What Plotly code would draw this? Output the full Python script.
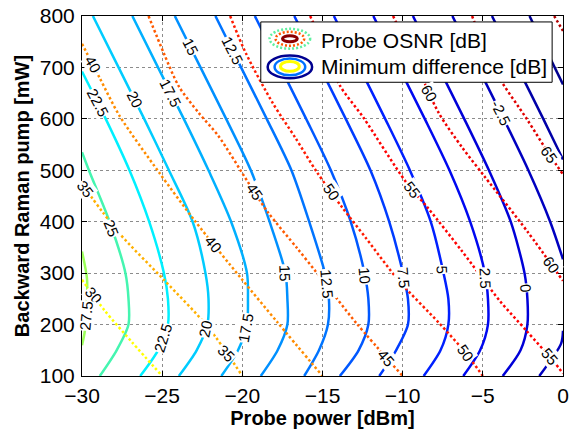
import numpy as np
import plotly.graph_objects as go

FONT = "Liberation Sans, Arial, Helvetica, sans-serif"

# ---------------------------------------------------------------------------
# Minimum difference [dB] contours: probe power (dBm) along each level line,
# sampled at backward Raman pump values (mW)
# ---------------------------------------------------------------------------
pump_grid = [800, 700, 600, 500, 400, 300, 250, 200, 150, 100]

md_0_power = [-9.36, -7.76, -6.16, -4.62, -3.26, -2.40, -2.22, -2.22, -2.65, -3.76]
md_2_5_power = [-11.83, -10.23, -8.62, -7.08, -5.79, -4.87, -4.68, -4.68, -5.17, -6.22]
md_5_power = [-14.29, -12.69, -11.09, -9.55, -8.25, -7.45, -7.15, -7.15, -7.64, -8.69]
md_7_5_power = [-16.76, -15.15, -13.55, -12.01, -10.84, -9.98, -9.67, -9.67, -10.41, -11.46]
md_10_power = [-19.22, -17.62, -16.02, -14.48, -13.24, -12.38, -12.14, -12.14, -12.75, -13.92]
md_12_5_power = [-21.68, -20.08, -18.48, -16.94, -15.83, -14.85, -14.60, -14.66, -15.22, -16.14]
md_15_power = [-24.21, -22.61, -21.01, -19.47, -18.30, -17.31, -17.19, -17.19, -17.80, -18.85]
md_17_5_power = [-26.86, -25.26, -23.65, -22.11, -20.70, -19.71, -19.65, -19.71, -20.27, -21.31]
md_20_power = [-29.32, -27.72, -26.12, -24.58, -23.10, -22.30, -22.11, -22.18, -22.85, -23.96]

md_22_5_pump = [692, 600, 500, 400, 300, 250, 200, 150, 100]
md_22_5_power = [-30.0, -28.52, -27.04, -25.81, -24.89, -24.64, -24.64, -25.26, -26.37]

md_25_pump = [535, 500, 400, 300, 250, 200, 150, 100]
md_25_power = [-30.0, -29.57, -28.28, -27.29, -27.10, -27.10, -27.84, -28.89]

md_27_5_pump = [342, 290, 246, 188, 160]
md_27_5_power = [-30.0, -29.69, -29.69, -29.82, -30.0]

md_m2_5_pump = [800, 700, 600, 500, 400, 327]
md_m2_5_power = [-6.90, -5.30, -3.70, -2.16, -0.80, 0.0]
md_m2_5b_pump = [188, 163, 100]
md_m2_5b_power = [0.0, -0.12, -1.48]

md_m5_pump = [800, 700, 600, 521]
md_m5_power = [-4.43, -2.83, -1.23, 0.0]

md_m7_5_pump = [800, 667]
md_m7_5_power = [-2.09, 0.0]

# ---------------------------------------------------------------------------
# Probe OSNR [dB] contours
# ---------------------------------------------------------------------------
osnr_30_power = [-30.0, -28.58, -26.86, -25.0]
osnr_30_pump = [287, 227, 165, 100]
osnr_35_power = [-30.0, -27.66, -24.89, -22.11, -20.0]
osnr_35_pump = [473, 377, 287, 194, 100]
osnr_40_power = [-30.0, -28.89, -27.66, -25.20, -22.92, -20.08, -17.80, -15.0]
osnr_40_pump = [746, 679, 606, 496, 400, 290, 204, 100]
osnr_45_power = [-25.85, -24.89, -23.96, -22.73, -21.50, -19.65, -18.42, -16.57, -15.34, -12.87, -10.0]
osnr_45_pump = [800, 727, 663, 612, 567, 477, 419, 348, 300, 202, 100]
osnr_50_power = [-20.76, -19.77, -18.11, -16.69, -15.34, -13.80, -12.26, -10.23, -7.76, -6.10, -5.0]
osnr_50_pump = [800, 727, 631, 563, 496, 429, 367, 285, 204, 146, 100]
osnr_55_power = [-15.77, -14.72, -13.92, -12.44, -9.79, -8.38, -6.28, -3.94, -2.28, -0.55, 0.0]
osnr_55_pump = [800, 727, 665, 602, 477, 425, 342, 246, 188, 127, 105]
osnr_60_power = [-10.60, -9.18, -7.76, -6.28, -4.87, -2.22, 0.0]
osnr_60_pump = [800, 708, 612, 544, 487, 381, 285]
osnr_65_power = [-5.67, -4.25, -2.22, -0.86, 0.0]
osnr_65_pump = [800, 694, 598, 531, 492]
osnr_70_power = [-0.55, 0.0]
osnr_70_pump = [800, 771]

# level -> list of (power, pump) segments
md_lines = {
    -7.5: [(md_m7_5_power, md_m7_5_pump)],
    -5: [(md_m5_power, md_m5_pump)],
    -2.5: [(md_m2_5_power, md_m2_5_pump), (md_m2_5b_power, md_m2_5b_pump)],
    0: [(md_0_power, pump_grid)],
    2.5: [(md_2_5_power, pump_grid)],
    5: [(md_5_power, pump_grid)],
    7.5: [(md_7_5_power, pump_grid)],
    10: [(md_10_power, pump_grid)],
    12.5: [(md_12_5_power, pump_grid)],
    15: [(md_15_power, pump_grid)],
    17.5: [(md_17_5_power, pump_grid)],
    20: [(md_20_power, pump_grid)],
    22.5: [(md_22_5_power, md_22_5_pump)],
    25: [(md_25_power, md_25_pump)],
    27.5: [(md_27_5_power, md_27_5_pump)],
}
osnr_lines = {
    30: (osnr_30_power, osnr_30_pump),
    35: (osnr_35_power, osnr_35_pump),
    40: (osnr_40_power, osnr_40_pump),
    45: (osnr_45_power, osnr_45_pump),
    50: (osnr_50_power, osnr_50_pump),
    55: (osnr_55_power, osnr_55_pump),
    60: (osnr_60_power, osnr_60_pump),
    65: (osnr_65_power, osnr_65_pump),
    70: (osnr_70_power, osnr_70_pump),
}

# line colours (jet-like) per level
md_colors = {
    -7.5: "#000090", -5: "#0000a8", -2.5: "#0000c0", 0: "#0000d8", 2.5: "#0008f0",
    5: "#0020ff", 7.5: "#003cff", 10: "#0058ff", 12.5: "#0074ff", 15: "#0090ff",
    17.5: "#00b0ff", 20: "#00ccff", 22.5: "#00f0ff", 25: "#45f5b0", 27.5: "#9cff5a",
}
osnr_colors = {
    30: "#ffff00", 35: "#ffb000", 40: "#ff8c00", 45: "#ff5a00", 50: "#ff1a00",
    55: "#ff0000", 60: "#f00000", 65: "#e00000", 70: "#b00000",
}

# inline contour labels: (level, pump where placed, text angle)
md_label_spots = [
    (12.5, 733, 63), (12.5, 279, 85), (15, 740, 63), (15, 300, 88),
    (17.5, 650, 63), (17.5, 194, -80), (20, 637, 63), (20, 192, -78),
    (22.5, 631, 62), (22.5, 175, -72), (25, 387, 68), (27.5, 218, -85),
    (10, 294, 85), (7.5, 290, 85), (5, 308, 88), (2.5, 290, 88), (0, 271, 85),
    (-2.5, 612, 63),
]
osnr_label_spots = [
    (40, 705, 60), (40, 356, 50), (35, 463, 52), (35, 144, 45), (30, 256, 50),
    (45, 458, 55), (45, 135, 50), (50, 458, 55), (50, 144, 55), (55, 463, 52),
    (55, 137, 50), (60, 650, 60), (60, 317, 55), (65, 531, 55),
]


def power_at(power, pump, p):
    pump = np.asarray(pump, float)
    power = np.asarray(power, float)
    order = np.argsort(pump)
    return float(np.interp(p, pump[order], power[order]))


def fmt(v):
    return f"{v:g}"


fig = go.Figure()

for lvl, segs in md_lines.items():
    for px, py in segs:
        fig.add_trace(go.Scatter(
            x=px, y=py, mode="lines", showlegend=False, hoverinfo="skip",
            line=dict(color=md_colors[lvl], width=2.5, shape="spline", smoothing=0.8),
        ))

for lvl, (px, py) in osnr_lines.items():
    fig.add_trace(go.Scatter(
        x=px, y=py, mode="lines", showlegend=False, hoverinfo="skip",
        line=dict(color=osnr_colors[lvl], width=2.5, dash="2.5px,2.5px",
                  shape="spline", smoothing=0.8),
    ))

annotations = []
for lvl, p, ang in osnr_label_spots:
    px, py = osnr_lines[lvl]
    annotations.append(dict(
        x=power_at(px, py, p), y=p, xref="x", yref="y", text=fmt(lvl),
        showarrow=False, textangle=ang, bgcolor="white", borderpad=0,
        font=dict(family=FONT, size=15, color="black"),
    ))
for lvl, p, ang in md_label_spots:
    px, py = md_lines[lvl][0]
    annotations.append(dict(
        x=power_at(px, py, p), y=p, xref="x", yref="y", text=fmt(lvl),
        showarrow=False, textangle=ang, bgcolor="white", borderpad=0,
        font=dict(family=FONT, size=15, color="black"),
    ))

# legend box with concentric contour icons
annotations.append(dict(x=0.4928, y=0.9313, xref="paper", yref="paper", xanchor="left",
                        yanchor="middle", text="Probe OSNR [dB]", showarrow=False,
                        font=dict(family=FONT, size=21, color="black")))
annotations.append(dict(x=0.4928, y=0.8599, xref="paper", yref="paper", xanchor="left",
                        yanchor="middle", text="Minimum difference [dB]", showarrow=False,
                        font=dict(family=FONT, size=21, color="black")))

shapes = [
    dict(type="rect", xref="paper", yref="paper", x0=0.3717, x1=0.9774, y0=0.8159, y1=0.9835,
         line=dict(color="black", width=1), fillcolor="white", layer="above"),
    dict(type="circle", xref="paper", yref="paper", x0=0.390, x1=0.4743, y0=0.9093, y1=0.9643,
         line=dict(color="#5ff0a0", width=2.5, dash="2px,2px"), layer="above"),
    dict(type="circle", xref="paper", yref="paper", x0=0.4025, x1=0.4620, y0=0.9176, y1=0.9560,
         line=dict(color="#ff5a00", width=2.5, dash="2px,2px"), layer="above"),
    dict(type="circle", xref="paper", yref="paper", x0=0.4168, x1=0.4476, y0=0.9286, y1=0.9451,
         line=dict(color="#8b0000", width=3), layer="above"),
    dict(type="circle", xref="paper", yref="paper", x0=0.3860, x1=0.4784, y0=0.8269, y1=0.8901,
         line=dict(color="#000090", width=2.5), layer="above"),
    dict(type="circle", xref="paper", yref="paper", x0=0.4004, x1=0.4641, y0=0.8352, y1=0.8819,
         line=dict(color="#0070ff", width=2.5), layer="above"),
    dict(type="circle", xref="paper", yref="paper", x0=0.4127, x1=0.4517, y0=0.8462, y1=0.8736,
         line=dict(color="#ffff00", width=3), layer="above"),
]

axis_common = dict(
    showline=True, linecolor="black", linewidth=1, mirror="allticks",
    ticks="inside", ticklen=5, tickcolor="black",
    showgrid=True, gridcolor="#8c8c8c", griddash="dot", gridwidth=1,
    zeroline=False, tickfont=dict(family=FONT, size=21, color="black"),
    ticklabeloverflow="allow",
)

fig.update_layout(
    width=573, height=429,
    margin=dict(l=82, r=4, t=12, b=53),
    paper_bgcolor="white", plot_bgcolor="white",
    showlegend=False,
    annotations=annotations,
    shapes=shapes,
    xaxis=dict(range=[-30, 0], tickvals=[-30, -25, -20, -15, -10, -5, 0],
               ticklabelstandoff=1,
               title=dict(text="<b>Probe power [dBm]</b>", standoff=1,
                          font=dict(family=FONT, size=20, color="black")),
               **axis_common),
    yaxis=dict(range=[100, 800], tickvals=[100, 200, 300, 400, 500, 600, 700, 800],
               ticklabelstandoff=2,
               title=dict(text="<b>Backward Raman pump [mW]</b>", standoff=4,
                          font=dict(family=FONT, size=20, color="black")),
               **axis_common),
)

fig.write_html("out.html")
